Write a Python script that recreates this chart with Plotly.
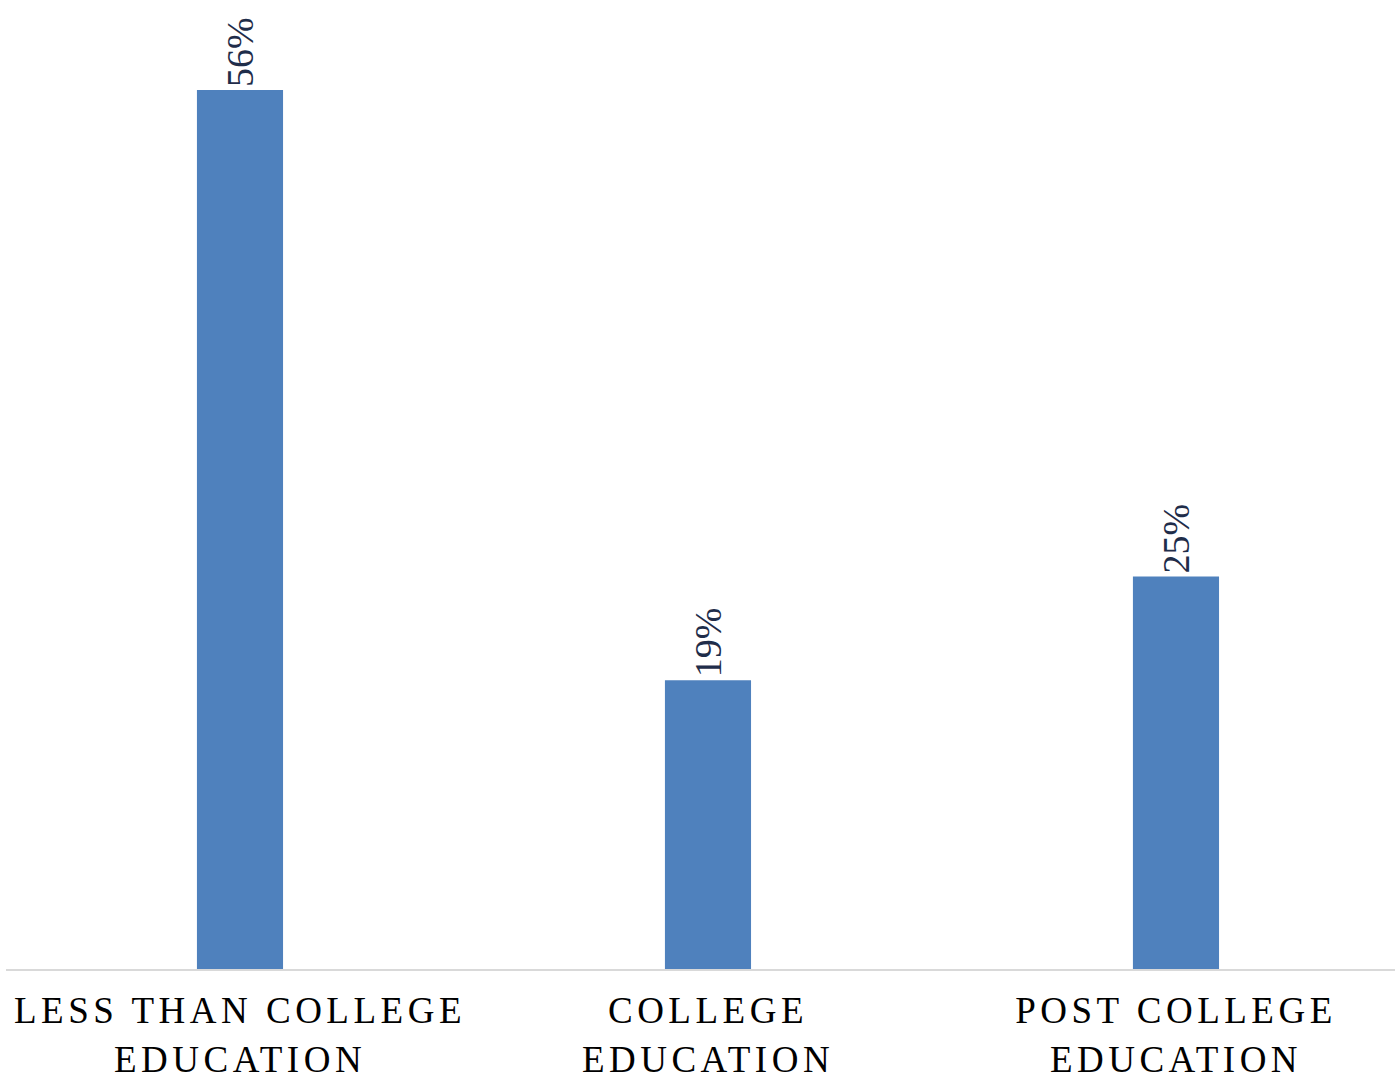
import plotly.graph_objects as go

categories = ["LESS THAN COLLEGE<br>EDUCATION", "COLLEGE<br>EDUCATION", "POST COLLEGE<br>EDUCATION"]
values = [56, 18.4, 25]
labels = ["56%", "19%", "25%"]

fig = go.Figure(go.Bar(
    x=categories,
    y=values,
    text=labels,
    textposition="outside",
    textangle=-90,
    cliponaxis=False,
    marker=dict(color="#4f81bd", line=dict(width=0)),
    width=0.184,
    textfont=dict(family="Liberation Serif", size=38, color="#1f2d4a"),
))

fig.update_layout(
    width=1395, height=1078,
    margin=dict(l=6, r=0, t=0, b=109),
    plot_bgcolor="white", paper_bgcolor="white",
    showlegend=False,
    font=dict(family="Liberation Serif"),
)
fig.update_xaxes(
    range=[-0.5, 2.468],
    automargin=False,
    showline=True, linecolor="#d9d9d9", linewidth=2,
    ticks="", showgrid=False,
    ticklabelstandoff=8,
    tickfont=dict(family="Liberation Serif", size=37, color="black"),
)
fig.update_yaxes(range=[0, 61.73], visible=False, showgrid=False, automargin=False)

post = """
var s = document.createElement('style');
s.textContent = 'body { margin: 0; } .xtick text { letter-spacing: 4.5px; }';
document.head.appendChild(s);
"""
fig.write_html("out.html", post_script=post, config={"displayModeBar": False})
